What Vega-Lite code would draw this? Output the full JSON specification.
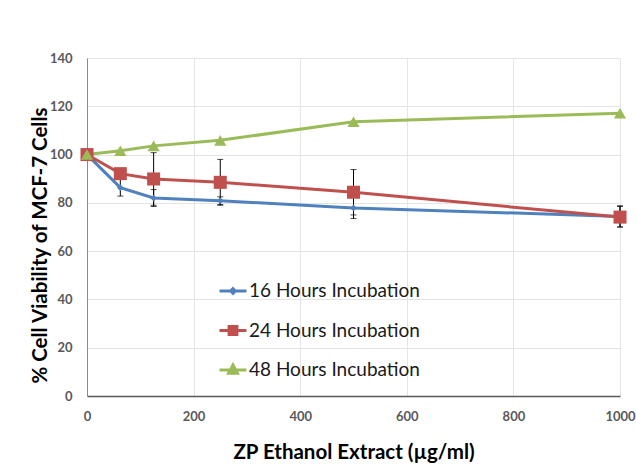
{
  "$schema": "https://vega.github.io/schema/vega-lite/v6.json",
  "width": 533,
  "height": 338,
  "autosize": {"type": "none"},
  "padding": {"left": 87, "top": 58, "right": 16, "bottom": 79},
  "background": "white",
  "config": {
    "view": {"stroke": null},
    "font": "Lato",
    "axis": {"grid": true, "gridColor": "#e4e4e4", "gridWidth": 1, "ticks": false, "labelFont": "Lato", "labelFontWeight": "bold", "labelColor": "#595959", "labelFontSize": 13, "titleFont": "Lato", "titleFontWeight": "bold", "titleColor": "#000000", "titleFontSize": 20.5}
  },
  "data": {
    "values": [
      {"x": 0, "s": "16 Hours Incubation", "v": 100},
      {"x": 62.5, "s": "16 Hours Incubation", "v": 86.3, "lo": 82.8, "hi": 89.8},
      {"x": 125, "s": "16 Hours Incubation", "v": 82.0, "lo": 78.5, "hi": 85.5},
      {"x": 250, "s": "16 Hours Incubation", "v": 80.9, "lo": 79.3, "hi": 82.5},
      {"x": 500, "s": "16 Hours Incubation", "v": 77.9, "lo": 73.5, "hi": 82.3},
      {"x": 1000, "s": "16 Hours Incubation", "v": 74.4, "lo": 70.0, "hi": 78.8},
      {"x": 0, "s": "24 Hours Incubation", "v": 100},
      {"x": 62.5, "s": "24 Hours Incubation", "v": 92.1},
      {"x": 125, "s": "24 Hours Incubation", "v": 89.9, "lo": 79.0, "hi": 100.8},
      {"x": 250, "s": "24 Hours Incubation", "v": 88.5, "lo": 79.0, "hi": 98.0},
      {"x": 500, "s": "24 Hours Incubation", "v": 84.4, "lo": 75.0, "hi": 93.8},
      {"x": 1000, "s": "24 Hours Incubation", "v": 74.1, "lo": 70.0, "hi": 78.5},
      {"x": 0, "s": "48 Hours Incubation", "v": 100},
      {"x": 62.5, "s": "48 Hours Incubation", "v": 101.6},
      {"x": 125, "s": "48 Hours Incubation", "v": 103.6},
      {"x": 250, "s": "48 Hours Incubation", "v": 105.9},
      {"x": 500, "s": "48 Hours Incubation", "v": 113.6},
      {"x": 1000, "s": "48 Hours Incubation", "v": 117.1}
    ]
  },
  "encoding": {
    "x": {"field": "x", "type": "quantitative", "scale": {"domain": [0, 1000], "nice": false},
      "axis": {"values": [0, 200, 400, 600, 800, 1000], "format": "d", "labelFlush": false, "title": "ZP Ethanol Extract (µg/ml)", "labelPadding": 14, "titlePadding": 19, "domainColor": "#595959", "domainWidth": 1.5}}
  },
  "layer": [
    {
      "transform": [{"filter": "isValid(datum.lo)"}],
      "mark": {"type": "errorbar", "color": "#000000", "thickness": 1, "ticks": {"size": 6, "thickness": 1, "color": "#000000"}},
      "encoding": {
        "y": {"field": "lo", "type": "quantitative", "title": "% Cell Viability of MCF-7 Cells"},
        "y2": {"field": "hi"}
      }
    },
    {
      "mark": {"type": "line", "strokeWidth": 3},
      "encoding": {
        "y": {"field": "v", "type": "quantitative", "title": "% Cell Viability of MCF-7 Cells", "scale": {"domain": [0, 140], "nice": false},
          "axis": {"values": [0, 20, 40, 60, 80, 100, 120, 140], "labelFlush": false, "title": "% Cell Viability of MCF-7 Cells", "labelPadding": 15, "titleX": -37, "titleY": 187, "domainColor": "#8c8c8c", "domainWidth": 1}},
        "color": {"field": "s", "type": "nominal",
          "scale": {"domain": ["16 Hours Incubation", "24 Hours Incubation", "48 Hours Incubation"], "range": ["#4F81BD", "#C0504D", "#9BBB59"]},
          "legend": {"title": null, "orient": "none", "legendX": 131, "legendY": 218, "symbolSize": 729, "rowPadding": 14.5, "labelFontSize": 19, "labelLimit": 400, "labelFont": "Lato", "labelColor": "#1a1a1a", "labelOffset": 1, "symbolStrokeWidth": 3,
            "encode": {"symbols": {"update": {
              "shape": {"signal": "datum.value == '16 Hours Incubation' ? 'M-1,0H1M0,-0.17L0.17,0L0,0.17L-0.17,0Z' : datum.value == '24 Hours Incubation' ? 'M-1,0H1M-0.29,-0.29H0.29V0.29H-0.29Z' : 'M-1,0H1M0,-0.38L0.33,0.24H-0.33Z'"},
              "fill": {"scale": "color", "field": "value"},
              "stroke": {"scale": "color", "field": "value"},
              "strokeWidth": {"value": 3},
              "opacity": {"value": 1}
            }}}}
        }
      }
    },
    {
      "transform": [{"filter": "datum.s == '16 Hours Incubation'"}],
      "mark": {"type": "point", "shape": "diamond", "filled": true, "size": 45, "opacity": 1, "color": "#4F81BD"},
      "encoding": {"y": {"field": "v", "type": "quantitative", "title": "% Cell Viability of MCF-7 Cells"}}
    },
    {
      "transform": [{"filter": "datum.s == '24 Hours Incubation'"}],
      "mark": {"type": "point", "shape": "square", "filled": true, "size": 170, "opacity": 1, "color": "#C0504D"},
      "encoding": {"y": {"field": "v", "type": "quantitative", "title": "% Cell Viability of MCF-7 Cells"}}
    },
    {
      "transform": [{"filter": "datum.s == '48 Hours Incubation'"}],
      "mark": {"type": "point", "shape": "triangle-up", "filled": true, "size": 150, "opacity": 1, "color": "#9BBB59"},
      "encoding": {"y": {"field": "v", "type": "quantitative", "title": "% Cell Viability of MCF-7 Cells"}}
    }
  ]
}
